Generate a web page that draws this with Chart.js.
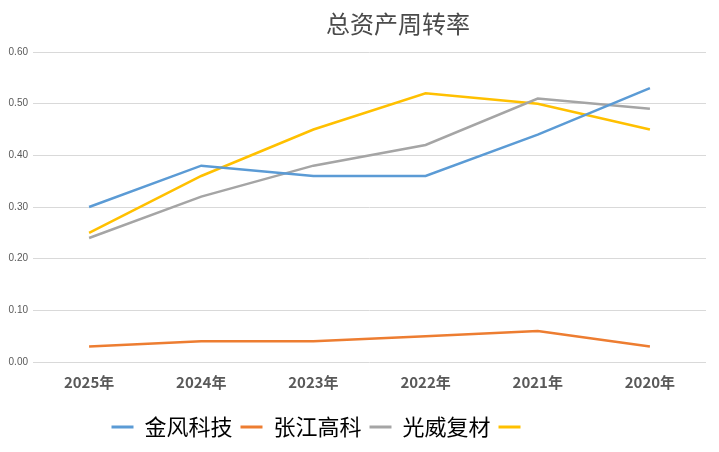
<!DOCTYPE html>
<html>
<head>
<meta charset="utf-8">
<script src="https://cdn.jsdelivr.net/npm/chart.js@4.4.1/dist/chart.umd.min.js"></script>
<style>
html,body{margin:0;padding:0;background:#fff;}
#wrap{position:relative;width:719px;height:452px;}
</style>
</head>
<body>
<div id="wrap"><canvas id="c" width="719" height="452"></canvas></div>
<script>
const title = '总资产周转率';
const categories = ['2025年','2024年','2023年','2022年','2021年','2020年'];
const seriesNames = ['金风科技','张江高科','光威复材','　　　'];
const jinfeng = [0.30,0.38,0.36,0.36,0.44,0.53];
const zhangjiang = [0.03,0.04,0.04,0.05,0.06,0.03];
const guangwei = [0.24,0.32,0.38,0.42,0.51,0.49];
const fourth = [0.25,0.36,0.45,0.52,0.50,0.45];
const yTicks = [0,0.1,0.2,0.3,0.4,0.5,0.6];

const colors = ['#5B9BD5','#ED7D31','#A5A5A5','#FFC000'];
const values = [jinfeng, zhangjiang, guangwei, fourth];

const titlePlugin = {
  id:'customTitle',
  afterDraw(chart){
    const ctx = chart.ctx;
    ctx.save();
    ctx.font = '24px "Noto Sans CJK SC"';
    ctx.fillStyle = '#4a4a4a';
    ctx.textAlign = 'center';
    ctx.textBaseline = 'middle';
    ctx.fillText(title, 398, 24);
    ctx.restore();
  }
};

new Chart(document.getElementById('c'), {
  type:'line',
  data:{
    labels:categories,
    datasets: values.map((v,i)=>({
      label:seriesNames[i],
      data:v,
      borderColor:colors[i],
      backgroundColor:colors[i],
      borderWidth:2.5,
      pointRadius:0,
      tension:0,
      fill:false
    }))
  },
  options:{
    responsive:false,
    animation:false,
    layout:{padding:{left:3,right:13,top:52,bottom:4}},
    plugins:{
      title:{display:false},
      tooltip:{enabled:false},
      legend:{
        position:'bottom',
        labels:{
          boxWidth:22,
          boxHeight:3,
          padding:8,
          color:'#595959',
          font:{size:22,family:'"Noto Sans CJK SC"'},
          generateLabels(chart){
            return chart.data.datasets.map((d,i)=>({
              text:d.label,
              fillStyle:d.borderColor,
              strokeStyle:d.borderColor,
              lineWidth:0,
              hidden:false,
              datasetIndex:i
            }));
          }
        }
      }
    },
    scales:{
      x:{
        offset:true,
        grid:{display:false},
        border:{display:false},
        ticks:{color:'#595959',font:{size:15,weight:'bold',family:'"Noto Sans CJK SC"'},padding:3,maxRotation:0},
        afterFit(s){ s.height = 46; }
      },
      y:{
        min:0,max:0.6,
        afterBuildTicks(s){ s.ticks = yTicks.map(v=>({value:v})); },
        grid:{color:'#D9D9D9',lineWidth:1,drawTicks:false},
        border:{display:false},
        ticks:{color:'#595959',font:{size:10,family:'"Liberation Sans"'},padding:5,callback:v=>v.toFixed(2)},
        afterFit(s){ s.width = 30; }
      }
    }
  },
  plugins:[titlePlugin]
});
</script>
</body>
</html>
